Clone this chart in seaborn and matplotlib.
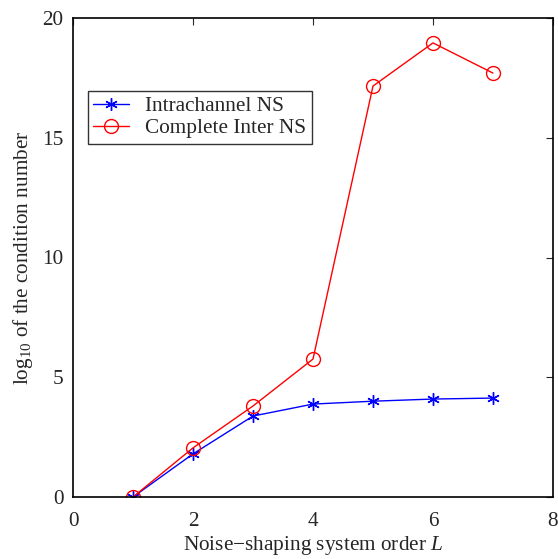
import matplotlib
matplotlib.use('Agg')
import matplotlib.pyplot as plt
import pandas as pd
import seaborn as sns

# values
orders = [1, 2, 3, 4, 5, 6, 7]
intra_ns = [0.0, 1.8, 3.38, 3.88, 4.0, 4.09, 4.13]
inter_ns = [0.0, 2.05, 3.8, 5.76, 17.16, 18.96, 17.7]
series_names = ['Intrachannel NS', 'Complete Inter NS']

sns.set_style('white')
plt.rcParams['font.family'] = ['Liberation Serif', 'DejaVu Serif']
plt.rcParams['mathtext.fontset'] = 'custom'
plt.rcParams['mathtext.rm'] = 'Liberation Serif'
plt.rcParams['mathtext.it'] = 'Liberation Serif:italic'
fs = 15.3

df = pd.DataFrame({
    'order': orders * 2,
    'value': intra_ns + inter_ns,
    'series': [series_names[0]] * len(orders) + [series_names[1]] * len(orders),
})

fig = plt.figure(figsize=(5.58, 5.59), dpi=100)
ax = fig.add_axes([73 / 558, 1 - 497 / 559, 480 / 558, 479 / 559])

sns.lineplot(data=df, x='order', y='value', hue='series', style='series',
             palette=['blue', 'red'], markers=['*', 'o'], dashes=False,
             markersize=9, linewidth=1, legend=False, ax=ax)

# matlab style markers: thin asterisk and open circle
lines = ax.lines[:2]
lines[0].set_marker((6, 2, 0))
lines[0].set_markersize(9)
lines[0].set_markeredgecolor('blue')
lines[0].set_markeredgewidth(1)
lines[1].set_marker('o')
lines[1].set_markersize(10)
lines[1].set_markerfacecolor('none')
lines[1].set_markeredgecolor('red')
lines[1].set_markeredgewidth(1)

ax.set_xlim(0, 8)
ax.set_ylim(0, 20)
ax.set_xticks([0, 2, 4, 6, 8])
ax.set_yticks([0, 5, 10, 15, 20])
ax.tick_params(direction='in', top=True, right=True, length=5, width=0.8,
               labelsize=fs)
ax.tick_params(axis='x', pad=11)
ax.tick_params(axis='y', pad=7)
for s in ax.spines.values():
    s.set_linewidth(1.2)
    s.set_color('black')

ax.set_xlabel('Noise\u2212shaping system order $L$', fontsize=fs, labelpad=2)
ax.set_ylabel('log$_{10}$ of the condition number', fontsize=fs, labelpad=5)

leg = ax.legend(lines, series_names, loc='upper left',
                bbox_to_anchor=(0.031, 0.847), fontsize=fs,
                frameon=True, fancybox=False, edgecolor='black',
                borderpad=0.25, labelspacing=0.1, handlelength=1.7,
                handletextpad=0.75, borderaxespad=0)
leg.get_frame().set_linewidth(1)
leg.get_frame().set_facecolor('white')

fig.savefig('out.png', dpi=100)
